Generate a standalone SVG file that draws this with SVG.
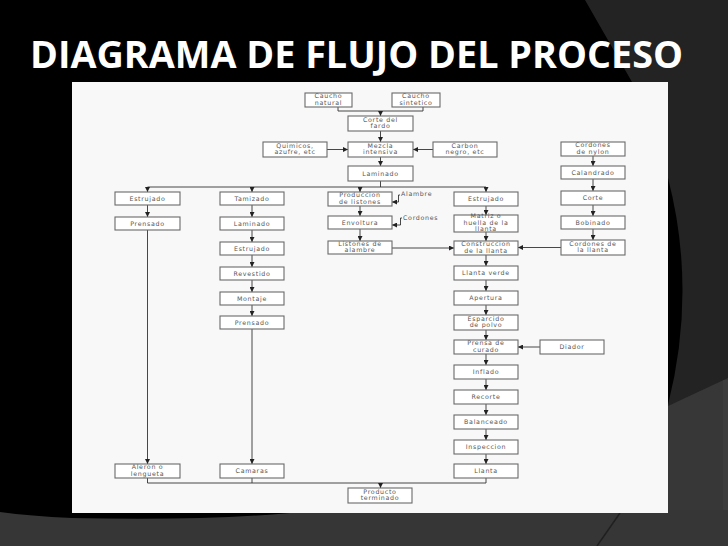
<svg xmlns="http://www.w3.org/2000/svg" width="728" height="546" viewBox="0 0 728 546">
<defs>
<marker id="ah" markerWidth="5" markerHeight="5" refX="5" refY="2.5" orient="auto" markerUnits="userSpaceOnUse"><path d="M0,0 L5,2.5 L0,5 z" fill="#222"/></marker>
<style>
.b{fill:#fff;stroke:#6a6a6a;stroke-width:1.1}
.t{font-family:"DejaVu Sans",sans-serif;font-size:6.3px;letter-spacing:0.7px;fill:#555;text-anchor:middle}
.l{font-family:"DejaVu Sans",sans-serif;font-size:6.3px;letter-spacing:0.7px;fill:#555}
.c{fill:none;stroke:#333;stroke-width:0.9}
.a{marker-end:url(#ah)}
</style>
</defs>
<!-- background -->
<rect width="728" height="546" fill="#000"/>
<polygon points="585,0 728,0 728,380 660,410 660,82 632,82" fill="#232323"/>
<path d="M668,178 Q697,290 668,405 Z" fill="#000"/>
<polygon points="668,406 728,378 728,546 668,546" fill="#373737"/>
<rect x="723" y="380" width="5" height="166" fill="#3c3c3c"/>
<rect x="0" y="510" width="728" height="36" fill="#363636"/>
<path d="M0,505 H300 L290,513 Q200,521 72,518 Q30,516 0,512 Z" fill="#000"/>
<line x1="620" y1="513" x2="597" y2="546" stroke="#202020" stroke-width="1.5"/>
<text x="30" y="68" font-family="'Open Sans',sans-serif" font-weight="700" font-size="37" fill="#fff" textLength="653" lengthAdjust="spacingAndGlyphs">DIAGRAMA DE FLUJO DEL PROCESO</text>
<rect x="72" y="82" width="596" height="431" fill="#f8f8f8"/>

<g id="connectors">
<path class="c" d="M338,107 V111 H423 V107"/>
<path class="c a" d="M380.5,111 V116"/>
<path class="c a" d="M380.5,131 V142"/>
<path class="c a" d="M327,149.5 H348"/>
<path class="c a" d="M433,149.5 H413"/>
<path class="c a" d="M380.5,157 V166"/>
<path class="c" d="M380.5,181 V187 M147.5,187 H486"/>
<path class="c a" d="M147.5,187 V192"/>
<path class="c a" d="M252,187 V192"/>
<path class="c a" d="M360,187 V192"/>
<path class="c a" d="M486,187 V192"/>
<path class="c a" d="M147.5,205 V217"/>
<path class="c a" d="M147.5,230 V464"/>
<path class="c a" d="M252,205 V217"/>
<path class="c a" d="M252,230 V242"/>
<path class="c a" d="M252,255 V267"/>
<path class="c a" d="M252,280 V292"/>
<path class="c a" d="M252,305 V316"/>
<path class="c a" d="M252,329 V464"/>
<path class="c a" d="M360,206 V216"/>
<path class="c a" d="M360,229 V241"/>
<path class="c a" d="M400,195 H398.5 V202 H392"/>
<path class="c a" d="M402,218 H400.5 V225 H392"/>
<path class="c a" d="M392,248 H454"/>
<path class="c a" d="M486,206 V215"/>
<path class="c a" d="M486,232 V241"/>
<path class="c a" d="M486,255 V266"/>
<path class="c a" d="M486,280 V291"/>
<path class="c a" d="M486,305 V315"/>
<path class="c a" d="M486,330 V340"/>
<path class="c a" d="M486,354 V365"/>
<path class="c a" d="M486,379 V390"/>
<path class="c a" d="M486,404 V415"/>
<path class="c a" d="M486,429 V440"/>
<path class="c a" d="M486,454 V464"/>
<path class="c a" d="M593,156 V166"/>
<path class="c a" d="M593,179 V191"/>
<path class="c a" d="M593,205 V216"/>
<path class="c a" d="M593,229 V240"/>
<path class="c a" d="M561,247.5 H518"/>
<path class="c a" d="M540,347 H518"/>
<path class="c" d="M147.5,478 V483 H486 V478 M252,478 V483"/>
<path class="c a" d="M380.5,483 V488"/>
</g>

<g id="caucho-natural"><rect class="b" x="305" y="93" width="47" height="14"/><text class="t" x="328.5" y="98">Caucho</text><text class="t" x="328.5" y="104.5">natural</text></g>
<g id="caucho-sintetico"><rect class="b" x="392" y="93" width="48" height="14"/><text class="t" x="416" y="98">Caucho</text><text class="t" x="416" y="104.5">sintetico</text></g>
<g id="corte-fardo"><rect class="b" x="348" y="116" width="65" height="15"/><text class="t" x="380.5" y="121.5">Corte del</text><text class="t" x="380.5" y="128">fardo</text></g>
<g id="quimicos"><rect class="b" x="263" y="142" width="64" height="15"/><text class="t" x="295" y="147.5">Quimicos,</text><text class="t" x="295" y="154">azufre, etc</text></g>
<g id="mezcla"><rect class="b" x="348" y="142" width="65" height="15"/><text class="t" x="380.5" y="147.5">Mezcla</text><text class="t" x="380.5" y="154">intensiva</text></g>
<g id="carbon"><rect class="b" x="433" y="142" width="64" height="15"/><text class="t" x="465" y="147.5">Carbon</text><text class="t" x="465" y="154">negro, etc</text></g>
<g id="laminado"><rect class="b" x="348" y="166" width="65" height="15"/><text class="t" x="380.5" y="175.5">Laminado</text></g>

<g id="estrujado-a"><rect class="b" x="115" y="192" width="65" height="13"/><text class="t" x="147.5" y="200.5">Estrujado</text></g>
<g id="prensado-a"><rect class="b" x="115" y="217" width="65" height="13"/><text class="t" x="147.5" y="225.5">Prensado</text></g>
<g id="aleron"><rect class="b" x="115" y="464" width="65" height="14"/><text class="t" x="147.5" y="469">Aleron o</text><text class="t" x="147.5" y="475.5">lengueta</text></g>

<g id="tamizado"><rect class="b" x="220" y="192" width="64" height="13"/><text class="t" x="252" y="200.5">Tamizado</text></g>
<g id="laminado-b"><rect class="b" x="220" y="217" width="64" height="13"/><text class="t" x="252" y="225.5">Laminado</text></g>
<g id="estrujado-b"><rect class="b" x="220" y="242" width="64" height="13"/><text class="t" x="252" y="250.5">Estrujado</text></g>
<g id="revestido"><rect class="b" x="220" y="267" width="64" height="13"/><text class="t" x="252" y="275.5">Revestido</text></g>
<g id="montaje"><rect class="b" x="220" y="292" width="64" height="13"/><text class="t" x="252" y="300.5">Montaje</text></g>
<g id="prensado-b"><rect class="b" x="220" y="316" width="64" height="13"/><text class="t" x="252" y="324.5">Prensado</text></g>
<g id="camaras"><rect class="b" x="220" y="464" width="64" height="14"/><text class="t" x="252" y="473">Camaras</text></g>

<g id="produccion"><rect class="b" x="328" y="192" width="64" height="14"/><text class="t" x="360" y="197">Produccion</text><text class="t" x="360" y="203.5">de listones</text></g>
<g id="alambre"><text class="l" x="401" y="196">Alambre</text></g>
<g id="envoltura"><rect class="b" x="328" y="216" width="64" height="13"/><text class="t" x="360" y="224.5">Envoltura</text></g>
<g id="cordones"><text class="l" x="403" y="220">Cordones</text></g>
<g id="listones"><rect class="b" x="328" y="241" width="64" height="13"/><text class="t" x="360" y="245.5">Listones de</text><text class="t" x="360" y="252">alambre</text></g>

<g id="estrujado-d"><rect class="b" x="454" y="192" width="64" height="14"/><text class="t" x="486" y="201">Estrujado</text></g>
<g id="matriz"><rect class="b" x="454" y="215" width="64" height="17"/><text class="t" x="486" y="218">Matriz o</text><text class="t" x="486" y="224.5">huella de la</text><text class="t" x="486" y="231">llanta</text></g>
<g id="construccion"><rect class="b" x="454" y="241" width="64" height="14"/><text class="t" x="486" y="246">Construccion</text><text class="t" x="486" y="252.5">de la llanta</text></g>
<g id="llanta-verde"><rect class="b" x="454" y="266" width="64" height="14"/><text class="t" x="486" y="275">Llanta verde</text></g>
<g id="apertura"><rect class="b" x="454" y="291" width="64" height="14"/><text class="t" x="486" y="300">Apertura</text></g>
<g id="esparcido"><rect class="b" x="454" y="315" width="64" height="15"/><text class="t" x="486" y="320.5">Esparcido</text><text class="t" x="486" y="327">de polvo</text></g>
<g id="prensa"><rect class="b" x="454" y="340" width="64" height="14"/><text class="t" x="486" y="345">Prensa de</text><text class="t" x="486" y="351.5">curado</text></g>
<g id="diador"><rect class="b" x="540" y="340" width="64" height="14"/><text class="t" x="572" y="349">Diador</text></g>
<g id="inflado"><rect class="b" x="454" y="365" width="64" height="14"/><text class="t" x="486" y="374">Inflado</text></g>
<g id="recorte"><rect class="b" x="454" y="390" width="64" height="14"/><text class="t" x="486" y="399">Recorte</text></g>
<g id="balanceado"><rect class="b" x="454" y="415" width="64" height="14"/><text class="t" x="486" y="424">Balanceado</text></g>
<g id="inspeccion"><rect class="b" x="454" y="440" width="64" height="14"/><text class="t" x="486" y="449">Inspeccion</text></g>
<g id="llanta"><rect class="b" x="454" y="464" width="64" height="14"/><text class="t" x="486" y="473">Llanta</text></g>

<g id="nylon"><rect class="b" x="561" y="142" width="64" height="14"/><text class="t" x="593" y="147">Cordones</text><text class="t" x="593" y="153.5">de nylon</text></g>
<g id="calandrado"><rect class="b" x="561" y="166" width="64" height="13"/><text class="t" x="593" y="174.5">Calandrado</text></g>
<g id="corte-e"><rect class="b" x="561" y="191" width="64" height="14"/><text class="t" x="593" y="200">Corte</text></g>
<g id="bobinado"><rect class="b" x="561" y="216" width="64" height="13"/><text class="t" x="593" y="224.5">Bobinado</text></g>
<g id="cordones-llanta"><rect class="b" x="561" y="240" width="64" height="15"/><text class="t" x="593" y="245.5">Cordones de</text><text class="t" x="593" y="252">la llanta</text></g>

<g id="producto"><rect class="b" x="348" y="488" width="64" height="15"/><text class="t" x="380" y="493.5">Producto</text><text class="t" x="380" y="500">terminado</text></g>
</svg>
